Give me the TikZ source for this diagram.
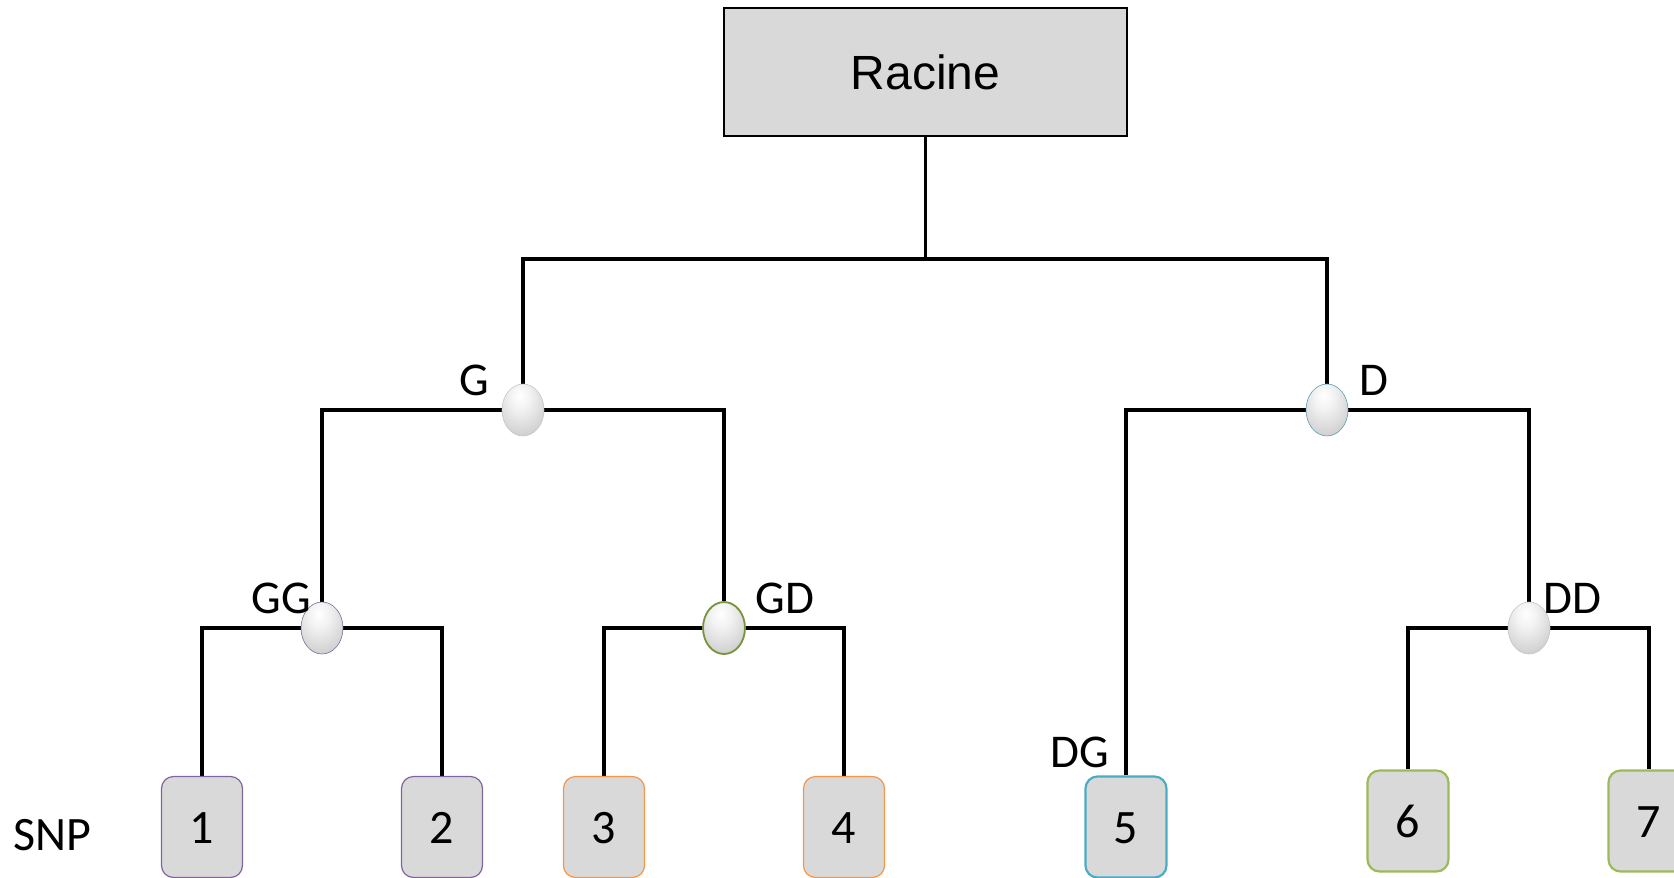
\documentclass[tikz,border=0pt]{standalone}
\usepackage{fontspec}
\setmainfont{Carlito}
\newfontfamily\arialfont{Liberation Sans}
\usetikzlibrary{shapes.geometric,backgrounds}
\definecolor{boxfill}{HTML}{D9D9D9}
\definecolor{cpurple}{HTML}{8064A2}
\definecolor{corange}{HTML}{F79646}
\definecolor{cblue}{HTML}{4BACC6}
\definecolor{cgreen}{HTML}{9BBB59}
\definecolor{cdgreen}{HTML}{77933C}
\pgfdeclareradialshading{knotshade}{\pgfpoint{-4bp}{14bp}}{%
  color(0bp)=(white);
  color(12bp)=(white!90!gray);
  color(30bp)=(gray!32);
  color(42bp)=(gray!50);
  color(52bp)=(gray!75);
  color(100bp)=(gray!75)}
\begin{document}
\begin{tikzpicture}[x=1pt,y=-1pt,
  tree/.style={line width=3.5pt, black, line join=miter},
  leaf/.style={draw, rounded corners=12pt, fill=boxfill, minimum width=81pt, minimum height=101pt, inner sep=0pt, text height=33pt, text depth=0pt, font=\fontsize{48}{50}\selectfont},
  knot/.style={ellipse, minimum width=42pt, minimum height=52pt, inner sep=0pt, shading=knotshade, draw=gray!45, line width=0.6pt},
  lab/.style={anchor=base, inner sep=0pt, font=\fontsize{47}{48}\selectfont},
  rootbox/.style={draw, line width=2pt, fill=boxfill, minimum width=403pt, minimum height=128pt, inner sep=0pt, font=\arialfont\fontsize{48}{50}\selectfont}
]
\useasboundingbox (0,0) rectangle (1674,878);

% root
\node[rootbox] (racine) at (925.5,72) {Racine};
\coordinate (rj) at (925.5,259);

% internal knots
\node[knot, draw=cblue!70!gray] (D) at (1327,410) {};
\node[knot] (G) at (523,410) {};
\node[knot, draw=cpurple!80!gray] (GG) at (322,628) {};
\node[knot, draw=cdgreen, line width=1.8pt] (GD) at (724,628) {};
\node[knot] (DD) at (1529,628) {};

% leaves
\node[leaf, draw=cpurple, line width=1.2pt] (b1) at (202,827) {1};
\node[leaf, draw=cpurple, line width=1.2pt] (b2) at (442,827) {2};
\node[leaf, draw=corange, line width=1.2pt] (b3) at (604,827) {3};
\node[leaf, draw=corange, line width=1.2pt] (b4) at (844,827) {4};
\node[leaf, draw=cblue, line width=2.2pt] (b5) at (1126,827) {5};
\node[leaf, draw=cgreen, line width=2.2pt] (b6) at (1408,821) {6};
\node[leaf, draw=cgreen, line width=2.2pt] (b7) at (1649,821) {7};

% labels
\node[lab] (lG) at (474,395) {G};
\node[lab] (lD) at (1374,395) {D};
\node[lab] (lGG) at (281,613) {GG};
\node[lab] (lGD) at (785,613) {GD};
\node[lab] (lDD) at (1572,613) {DD};
\node[lab] (lDG) at (1080,767) {DG};
\node[lab, font=\fontsize{48}{50}\selectfont] (lSNP) at (52,850) {SNP};

\begin{pgfonlayer}{background}
  \draw[tree] (racine.south) -- (rj);
  \draw[tree] (G) |- (rj) -| (D);
  \draw[tree] (GG) |- (G.center) -| (GD);
  \draw[tree] (b1) |- (GG.center) -| (b2);
  \draw[tree] (b3) |- (GD.center) -| (b4);
  \draw[tree] (b5) |- (D.center) -| (DD);
  \draw[tree] (b6) |- (DD.center) -| (b7);
\end{pgfonlayer}
\end{tikzpicture}
\end{document}
